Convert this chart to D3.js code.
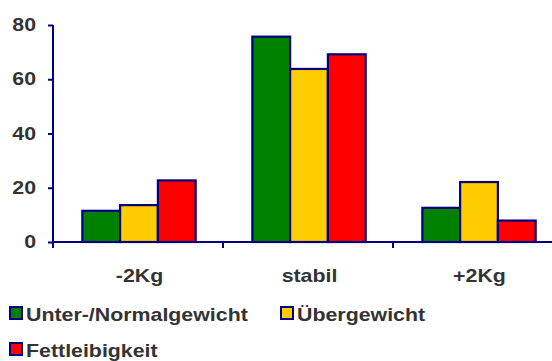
<!DOCTYPE html>
<html>
<head>
<meta charset="utf-8">
<script src="https://cdn.jsdelivr.net/npm/d3@7"></script>
<style>
  html, body { margin: 0; padding: 0; background: #fff; }
  svg { display: block; }
  text { font-family: "Liberation Sans", Arial, sans-serif; font-weight: bold; fill: #333; }
</style>
</head>
<body>
<svg id="chart" width="552" height="361"></svg>
<script>
// Weight change groups and the share (%) per BMI class
const categories = ["-2Kg", "stabil", "+2Kg"];
const seriesNames = ["Unter-/Normalgewicht", "Übergewicht", "Fettleibigkeit"];
const seriesColors = ["#008000", "#FFCC00", "#FF0000"];
const normalValues = [11.5, 75.7, 12.6];
const overweightValues = [13.6, 63.8, 22.1];
const obeseValues = [22.7, 69.2, 7.9];
const yTicks = [0, 20, 40, 60, 80];

const seriesValues = [normalValues, overweightValues, obeseValues];
const rows = categories.map((c, i) => ({
  category: c,
  values: seriesNames.map((s, j) => ({ series: s, index: j, value: seriesValues[j][i] }))
}));

const svg = d3.select("#chart");
const axisColor = "#000080";
const fontSize = 17.5;
const stretch = 1.22;

const x0 = d3.scaleBand().domain(categories).range([53, 563]).paddingInner(0).paddingOuter(0);
const x1 = d3.scaleBand().domain(d3.range(seriesNames.length)).range([0, x0.bandwidth()]).paddingInner(0).paddingOuter(0.75);
const y = d3.scaleLinear().domain([0, 80]).range([242, 25]);

// Bars
const groups = svg.append("g").selectAll("g").data(rows).join("g")
  .attr("transform", d => `translate(${x0(d.category) + 1},0)`);
groups.selectAll("rect").data(d => d.values).join("rect")
  .attr("x", d => x1(d.index))
  .attr("y", d => y(d.value))
  .attr("width", x1.bandwidth())
  .attr("height", d => y(0) - y(d.value))
  .attr("fill", d => seriesColors[d.index])
  .attr("stroke", axisColor)
  .attr("stroke-width", 2.2);

// Y axis
const yAxis = svg.append("g").attr("transform", "translate(53,0)")
  .call(d3.axisLeft(y).tickValues(yTicks).tickSize(5).tickPadding(12).tickFormat(d3.format("d")));
yAxis.select(".domain").attr("stroke", axisColor).attr("stroke-width", 2).attr("d", `M0,${y(80)}V${y(0)}`);
yAxis.selectAll(".tick line").attr("stroke", axisColor).attr("stroke-width", 2);
yAxis.selectAll(".tick text")
  .attr("font-size", fontSize)
  .attr("fill", "#333")
  .attr("transform", function() {
    const tx = +d3.select(this).attr("x");
    return `translate(${tx},0) scale(${stretch},1) translate(${-tx},0)`;
  });

// X axis
const xAxisG = svg.append("g").attr("transform", `translate(0,${y(0)})`);
xAxisG.append("line").attr("x1", 53).attr("x2", 552).attr("y1", 0).attr("y2", 0)
  .attr("stroke", axisColor).attr("stroke-width", 2);
const bounds = [...categories.map(c => x0(c)), x0.range()[1]];
xAxisG.selectAll("line.tk").data(bounds).join("line").attr("class", "tk")
  .attr("x1", d => d).attr("x2", d => d).attr("y1", 0).attr("y2", 6)
  .attr("stroke", axisColor).attr("stroke-width", 2);
xAxisG.selectAll("text").data(categories).join("text")
  .attr("text-anchor", "middle")
  .attr("font-size", fontSize)
  .attr("transform", d => `translate(${x0(d) + x0.bandwidth() / 2 + 1.5},39.5) scale(${stretch},1)`)
  .text(d => d);

// Legend
const legendItems = [
  { x: 9, y: 306 },
  { x: 280, y: 306 },
  { x: 9, y: 342 }
];
const legend = svg.append("g").selectAll("g").data(seriesNames).join("g")
  .attr("transform", (d, i) => `translate(${legendItems[i].x},${legendItems[i].y})`);
legend.append("rect")
  .attr("x", 1).attr("y", 1).attr("width", 12).attr("height", 12)
  .attr("fill", (d, i) => seriesColors[i])
  .attr("stroke", axisColor).attr("stroke-width", 2);
legend.append("text")
  .attr("transform", `translate(17,14.5) scale(${stretch},1)`)
  .attr("font-size", fontSize)
  .text(d => d);
</script>
</body>
</html>
